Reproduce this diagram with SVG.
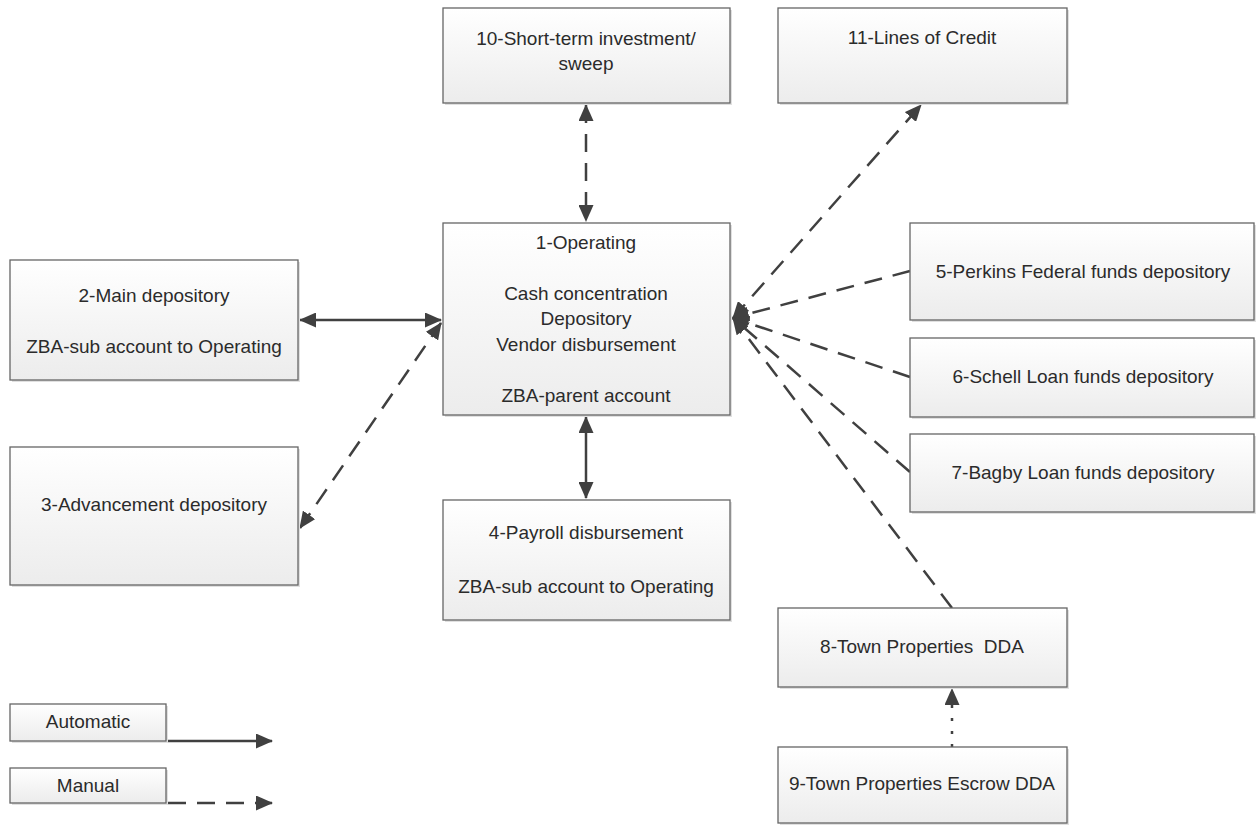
<svg xmlns="http://www.w3.org/2000/svg" width="1257" height="825" viewBox="0 0 1257 825">
<defs>
<linearGradient id="g" x1="0" y1="0" x2="0" y2="1">
<stop offset="0" stop-color="#ffffff"/>
<stop offset="1" stop-color="#ececec"/>
</linearGradient>
<marker id="ah" markerUnits="userSpaceOnUse" markerWidth="17" markerHeight="15" viewBox="0 0 17 15" refX="16" refY="7.5" orient="auto-start-reverse">
<path d="M0,0 L17,7.5 L0,15 Z" fill="#404040"/>
</marker>
</defs>
<style>
.box{fill:url(#g);stroke:#666;stroke-width:1.3}
.sh{fill:#e0e0e0}
text{font-family:"Liberation Sans",Arial,sans-serif;font-size:19px;fill:#2b2b2b;text-anchor:middle}
.c{fill:none;stroke:#404040;stroke-width:2.5}
.d{stroke-dasharray:18 11}
.dot{stroke-dasharray:3 10}
</style>
<rect width="1257" height="825" fill="#ffffff"/>
<g id="connectors">
<line class="c" x1="300" y1="320" x2="441" y2="320" marker-start="url(#ah)" marker-end="url(#ah)"/>
<line class="c d" x1="300" y1="528" x2="441" y2="323" marker-start="url(#ah)" marker-end="url(#ah)"/>
<line class="c d" x1="586" y1="105" x2="586" y2="221" marker-start="url(#ah)" marker-end="url(#ah)"/>
<line class="c" x1="586" y1="417" x2="586" y2="498" marker-start="url(#ah)" marker-end="url(#ah)"/>
<line class="c d" x1="733" y1="318" x2="921" y2="105" marker-start="url(#ah)" marker-end="url(#ah)"/>
<line class="c d" x1="910" y1="271" x2="733" y2="318" marker-end="url(#ah)"/>
<line class="c d" x1="910" y1="377" x2="733" y2="318" marker-end="url(#ah)"/>
<line class="c d" x1="910" y1="472" x2="733" y2="318" marker-end="url(#ah)"/>
<line class="c d" x1="952" y1="608" x2="733" y2="318" marker-end="url(#ah)"/>
<line class="c dot" x1="952" y1="747" x2="952" y2="689" marker-end="url(#ah)"/>
<line class="c" x1="166" y1="741" x2="272" y2="741" marker-end="url(#ah)"/>
<line class="c d" x1="168" y1="803" x2="272" y2="803" marker-end="url(#ah)"/>
</g>
<g id="n10"><rect class="sh" x="445" y="10" width="287" height="95"/><rect class="box" x="443" y="8" width="287" height="95"/><text x="586" y="45">10-Short-term investment/</text><text x="586" y="70">sweep</text></g>
<g id="n11"><rect class="sh" x="780" y="10" width="289" height="95"/><rect class="box" x="778" y="8" width="289" height="95"/><text x="922" y="44">11-Lines of Credit</text></g>
<g id="n1"><rect class="sh" x="445" y="225" width="287" height="192"/><rect class="box" x="443" y="223" width="287" height="192"/><text x="586" y="249">1-Operating</text><text x="586" y="300">Cash concentration</text><text x="586" y="325">Depository</text><text x="586" y="351">Vendor disbursement</text><text x="586" y="402">ZBA-parent account</text></g>
<g id="n2"><rect class="sh" x="12" y="262" width="288" height="120"/><rect class="box" x="10" y="260" width="288" height="120"/><text x="154" y="302">2-Main depository</text><text x="154" y="353">ZBA-sub account to Operating</text></g>
<g id="n3"><rect class="sh" x="12" y="449" width="288" height="138"/><rect class="box" x="10" y="447" width="288" height="138"/><text x="154" y="511">3-Advancement depository</text></g>
<g id="n4"><rect class="sh" x="445" y="502" width="287" height="120"/><rect class="box" x="443" y="500" width="287" height="120"/><text x="586" y="539">4-Payroll disbursement</text><text x="586" y="593">ZBA-sub account to Operating</text></g>
<g id="n5"><rect class="sh" x="912" y="225" width="344" height="97"/><rect class="box" x="910" y="223" width="344" height="97"/><text x="1083" y="278">5-Perkins Federal funds depository</text></g>
<g id="n6"><rect class="sh" x="912" y="340" width="344" height="79"/><rect class="box" x="910" y="338" width="344" height="79"/><text x="1083" y="383">6-Schell Loan funds depository</text></g>
<g id="n7"><rect class="sh" x="912" y="436" width="344" height="78"/><rect class="box" x="910" y="434" width="344" height="78"/><text x="1083" y="479">7-Bagby Loan funds depository</text></g>
<g id="n8"><rect class="sh" x="780" y="610" width="289" height="79"/><rect class="box" x="778" y="608" width="289" height="79"/><text x="922" y="653" xml:space="preserve">8-Town Properties  DDA</text></g>
<g id="n9"><rect class="sh" x="780" y="749" width="289" height="76"/><rect class="box" x="778" y="747" width="289" height="76"/><text x="922" y="790">9-Town Properties Escrow DDA</text></g>
<g id="legend-automatic"><rect class="sh" x="12" y="706" width="156" height="37"/><rect class="box" x="10" y="704" width="156" height="37"/><text x="88" y="728">Automatic</text></g>
<g id="legend-manual"><rect class="sh" x="12" y="770" width="156" height="35"/><rect class="box" x="10" y="768" width="156" height="35"/><text x="88" y="792">Manual</text></g>
</svg>
